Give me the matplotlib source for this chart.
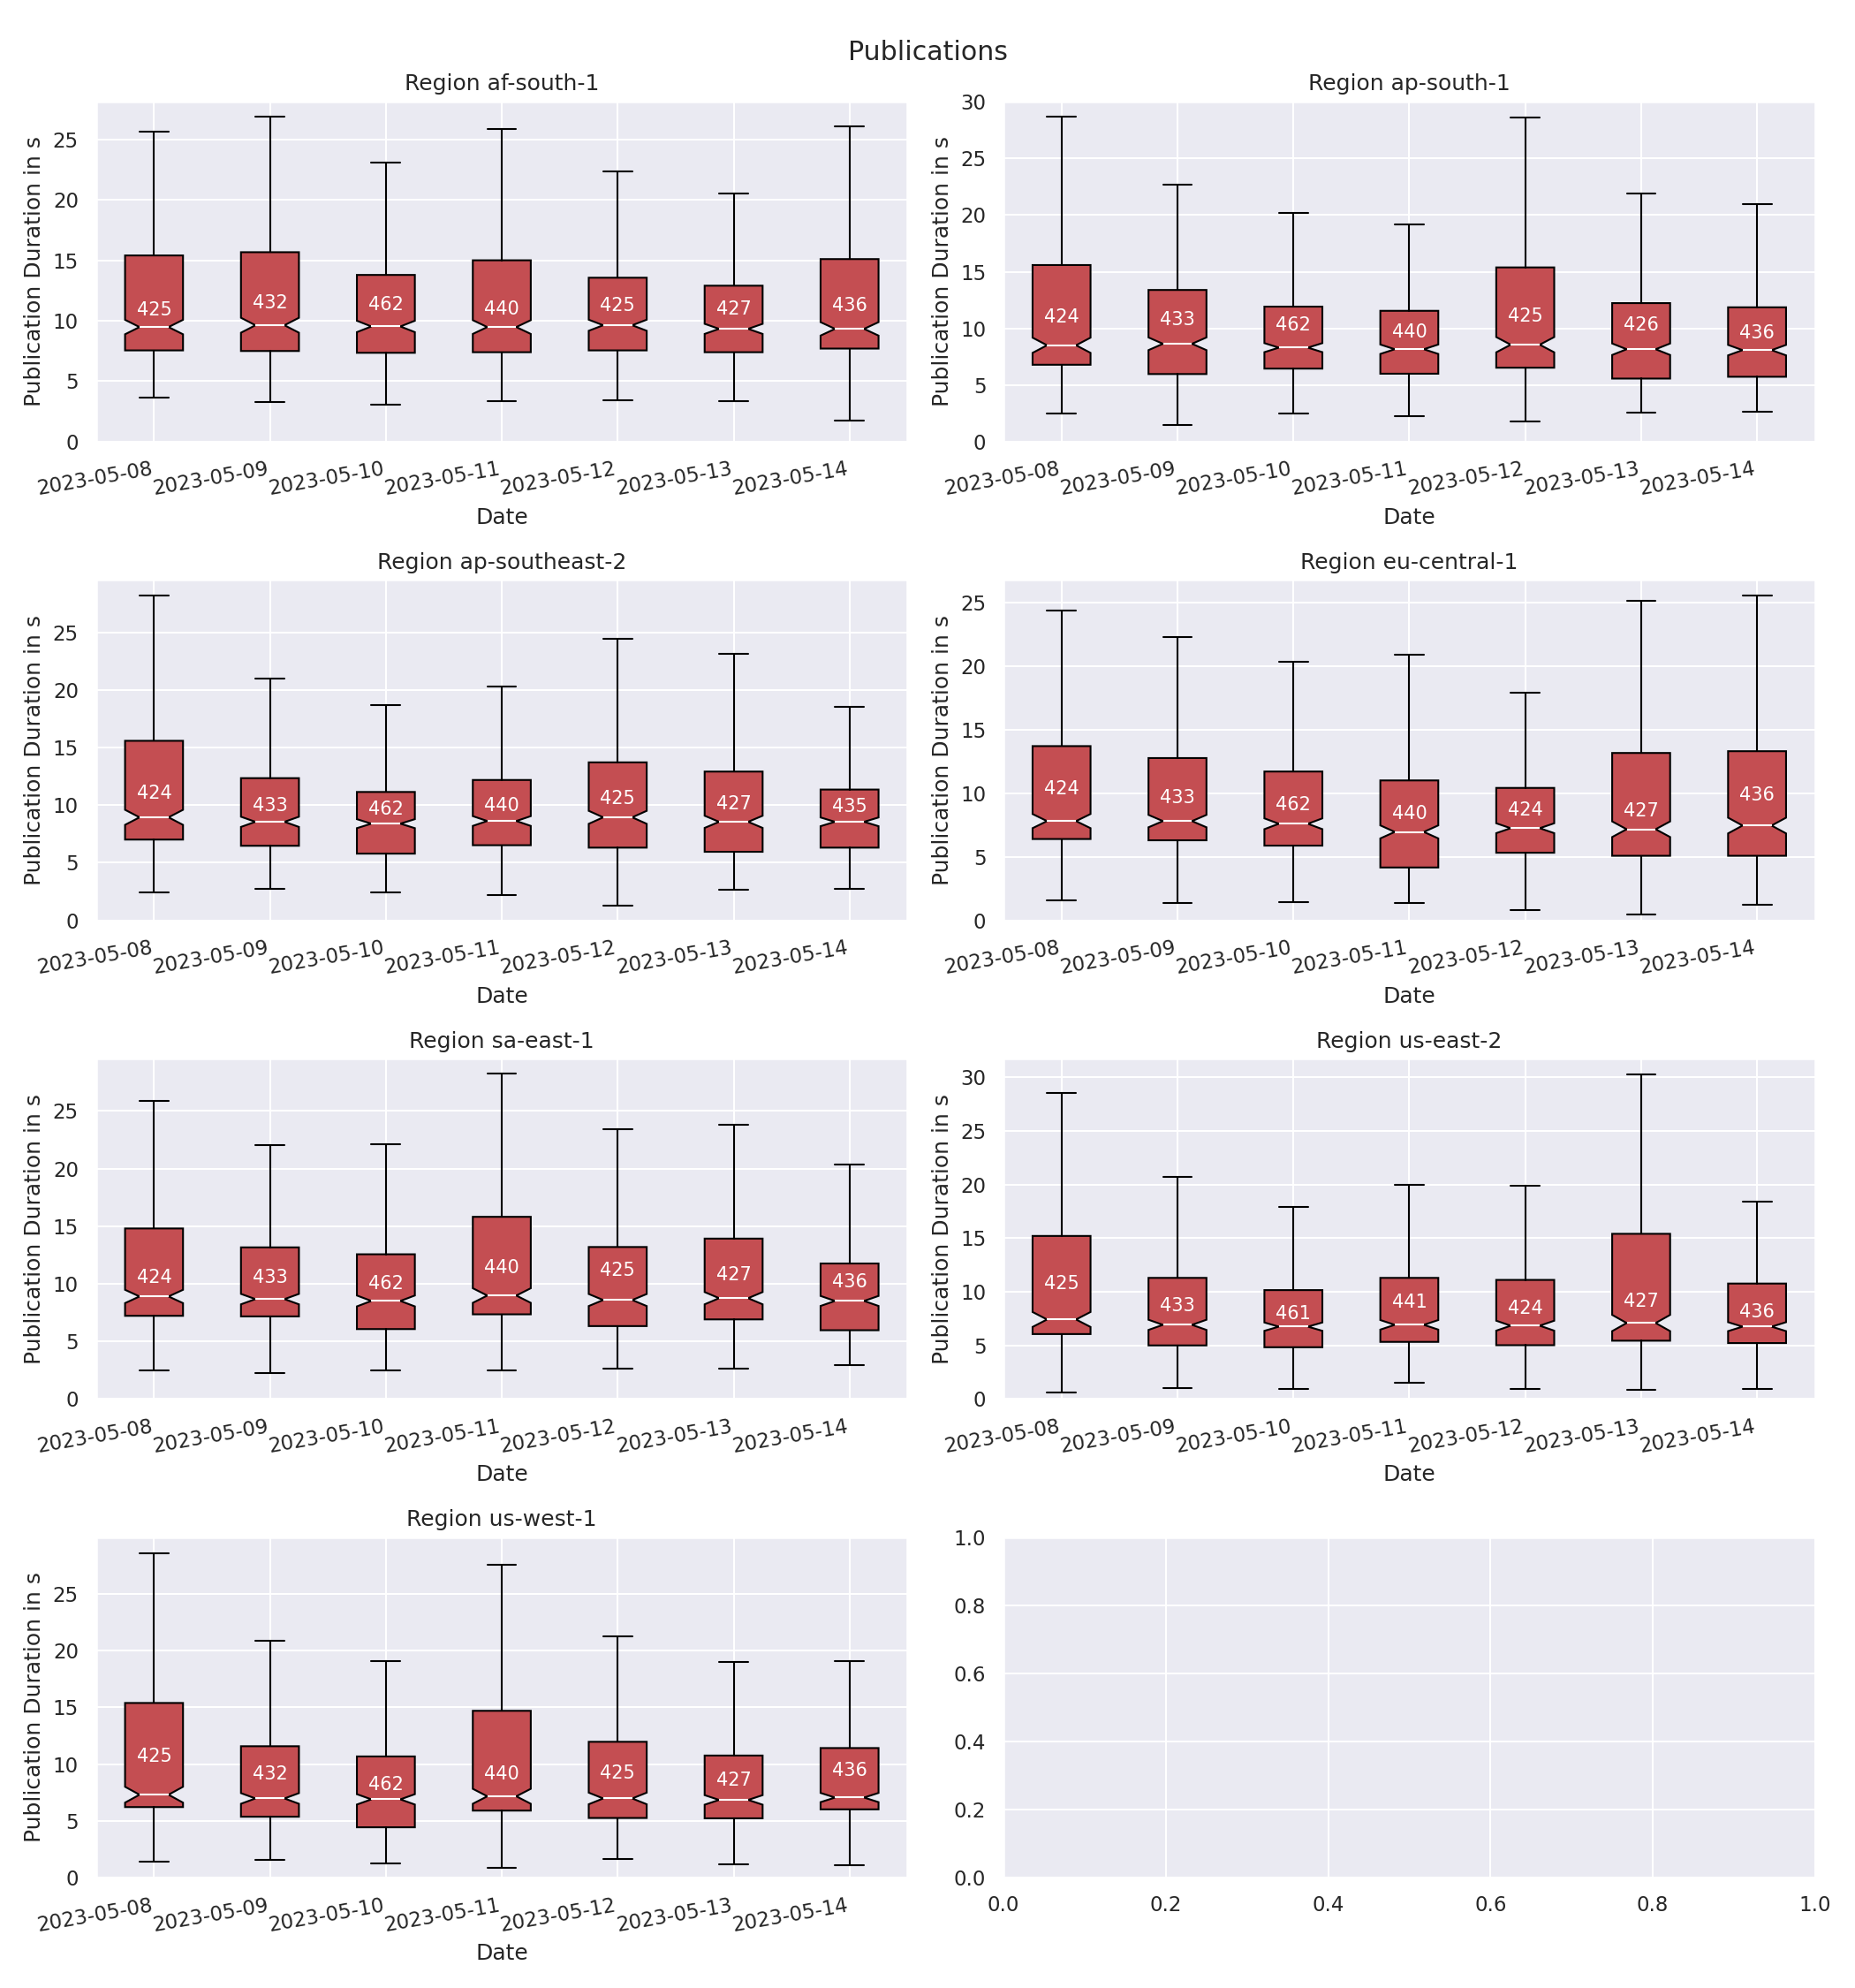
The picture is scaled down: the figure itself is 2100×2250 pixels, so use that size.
import numpy as np
import matplotlib
matplotlib.use("Agg")
import matplotlib.pyplot as plt
import seaborn as sns

sns.set_theme(context="notebook", style="darkgrid")

dates = ["2023-05-08", "2023-05-09", "2023-05-10", "2023-05-11",
         "2023-05-12", "2023-05-13", "2023-05-14"]

regions = ["af-south-1", "ap-south-1", "ap-southeast-2", "eu-central-1",
           "sa-east-1", "us-east-2", "us-west-1"]

# per region: counts, whisker low, q1, median, q3, whisker high, mean (label y)
af_south_1_n = [425, 432, 462, 440, 425, 427, 436]
af_south_1_lo = [3.61, 3.27, 3.09, 3.37, 3.44, 3.37, 1.71]
af_south_1_q1 = [7.55, 7.50, 7.35, 7.40, 7.55, 7.40, 7.70]
af_south_1_med = [9.48, 9.63, 9.53, 9.48, 9.63, 9.33, 9.33]
af_south_1_q3 = [15.40, 15.67, 13.79, 15.00, 13.56, 12.90, 15.10]
af_south_1_hi = [25.67, 26.90, 23.07, 25.87, 22.35, 20.54, 26.11]
af_south_1_mean = [10.90, 11.50, 11.34, 10.97, 11.26, 10.94, 11.26]

ap_south_1_n = [424, 433, 462, 440, 425, 426, 436]
ap_south_1_lo = [2.46, 1.45, 2.46, 2.22, 1.82, 2.56, 2.64]
ap_south_1_q1 = [6.79, 5.97, 6.45, 6.00, 6.53, 5.57, 5.73]
ap_south_1_med = [8.51, 8.64, 8.30, 8.16, 8.56, 8.16, 8.08]
ap_south_1_q3 = [15.59, 13.39, 11.92, 11.55, 15.38, 12.23, 11.86]
ap_south_1_hi = [28.69, 22.69, 20.18, 19.15, 28.64, 21.93, 20.95]
ap_south_1_mean = [10.96, 10.78, 10.25, 9.64, 11.04, 10.30, 9.56]

ap_southeast_2_n = [424, 433, 462, 440, 425, 427, 435]
ap_southeast_2_lo = [2.39, 2.70, 2.39, 2.23, 1.25, 2.62, 2.70]
ap_southeast_2_q1 = [7.01, 6.47, 5.79, 6.52, 6.31, 5.95, 6.31]
ap_southeast_2_med = [8.94, 8.55, 8.39, 8.62, 8.94, 8.55, 8.55]
ap_southeast_2_q3 = [15.58, 12.34, 11.14, 12.18, 13.71, 12.91, 11.35]
ap_southeast_2_hi = [28.20, 20.99, 18.68, 20.29, 24.44, 23.14, 18.52]
ap_southeast_2_mean = [10.99, 9.95, 9.61, 9.95, 10.57, 10.08, 9.84]

eu_central_1_n = [424, 433, 462, 440, 424, 427, 436]
eu_central_1_lo = [1.55, 1.34, 1.41, 1.34, 0.78, 0.49, 1.20]
eu_central_1_q1 = [6.40, 6.30, 5.88, 4.16, 5.32, 5.08, 5.08]
eu_central_1_med = [7.81, 7.81, 7.60, 6.96, 7.25, 7.17, 7.46]
eu_central_1_q3 = [13.71, 12.77, 11.71, 11.01, 10.42, 13.17, 13.31]
eu_central_1_hi = [24.41, 22.32, 20.37, 20.93, 17.94, 25.16, 25.54]
eu_central_1_mean = [10.35, 9.64, 9.10, 8.40, 8.66, 8.58, 9.88]

sa_east_1_n = [424, 433, 462, 440, 425, 427, 436]
sa_east_1_lo = [2.52, 2.28, 2.52, 2.52, 2.60, 2.67, 2.91]
sa_east_1_q1 = [7.22, 7.17, 6.07, 7.35, 6.33, 6.91, 5.97]
sa_east_1_med = [8.90, 8.67, 8.51, 8.98, 8.59, 8.75, 8.51]
sa_east_1_q3 = [14.80, 13.16, 12.56, 15.81, 13.19, 13.92, 11.76]
sa_east_1_hi = [25.86, 22.01, 22.12, 28.25, 23.39, 23.81, 20.35]
sa_east_1_mean = [10.57, 10.57, 10.00, 11.37, 11.16, 10.77, 10.18]

us_east_2_n = [425, 433, 461, 441, 424, 427, 436]
us_east_2_lo = [0.64, 1.06, 0.98, 1.48, 0.98, 0.89, 0.98]
us_east_2_q1 = [6.06, 5.00, 4.83, 5.33, 5.02, 5.44, 5.22]
us_east_2_med = [7.42, 6.92, 6.75, 6.92, 6.84, 7.09, 6.75]
us_east_2_q3 = [15.21, 11.30, 10.16, 11.30, 11.11, 15.41, 10.77]
us_east_2_hi = [28.52, 20.68, 17.92, 19.95, 19.87, 30.28, 18.45]
us_east_2_mean = [10.75, 8.65, 7.95, 8.99, 8.43, 9.07, 8.15]

us_west_1_n = [425, 432, 462, 440, 425, 427, 436]
us_west_1_lo = [1.45, 1.53, 1.23, 0.90, 1.62, 1.15, 1.07]
us_west_1_q1 = [6.22, 5.37, 4.44, 5.91, 5.26, 5.23, 6.02]
us_west_1_med = [7.31, 6.98, 6.90, 7.17, 6.98, 6.85, 7.06]
us_west_1_q3 = [15.39, 11.58, 10.68, 14.70, 11.97, 10.76, 11.42]
us_west_1_hi = [28.61, 20.89, 19.09, 27.60, 21.28, 19.00, 19.09]
us_west_1_mean = [10.68, 9.09, 8.21, 9.09, 9.17, 8.57, 9.45]

region_data = {
    "af-south-1": (af_south_1_n, af_south_1_lo, af_south_1_q1, af_south_1_med, af_south_1_q3, af_south_1_hi, af_south_1_mean),
    "ap-south-1": (ap_south_1_n, ap_south_1_lo, ap_south_1_q1, ap_south_1_med, ap_south_1_q3, ap_south_1_hi, ap_south_1_mean),
    "ap-southeast-2": (ap_southeast_2_n, ap_southeast_2_lo, ap_southeast_2_q1, ap_southeast_2_med, ap_southeast_2_q3, ap_southeast_2_hi, ap_southeast_2_mean),
    "eu-central-1": (eu_central_1_n, eu_central_1_lo, eu_central_1_q1, eu_central_1_med, eu_central_1_q3, eu_central_1_hi, eu_central_1_mean),
    "sa-east-1": (sa_east_1_n, sa_east_1_lo, sa_east_1_q1, sa_east_1_med, sa_east_1_q3, sa_east_1_hi, sa_east_1_mean),
    "us-east-2": (us_east_2_n, us_east_2_lo, us_east_2_q1, us_east_2_med, us_east_2_q3, us_east_2_hi, us_east_2_mean),
    "us-west-1": (us_west_1_n, us_west_1_lo, us_west_1_q1, us_west_1_med, us_west_1_q3, us_west_1_hi, us_west_1_mean),
}

BOX_COLOR = "#C44E52"

fig, axes = plt.subplots(4, 2, figsize=(14, 15), dpi=150)
axes = axes.flatten()

for ax, region in zip(axes, regions):
    n, lo, q1, med, q3, hi, mean = region_data[region]
    stats = []
    for i in range(len(dates)):
        iqr = q3[i] - q1[i]
        half = 1.57 * iqr / np.sqrt(n[i])
        stats.append(dict(med=med[i], q1=q1[i], q3=q3[i], whislo=lo[i], whishi=hi[i],
                          cilo=med[i] - half, cihi=med[i] + half, mean=mean[i],
                          fliers=[], label=dates[i]))
    ax.bxp(stats, shownotches=True, patch_artist=True, showfliers=False,
           boxprops=dict(facecolor=BOX_COLOR, edgecolor="black"),
           medianprops=dict(color="white"),
           whiskerprops=dict(color="black"), capprops=dict(color="black"))
    for i in range(len(dates)):
        ax.text(i + 1, mean[i], str(n[i]), ha="center", va="center",
                color="white", fontsize=10)
    ax.set_ylim(bottom=0)
    ax.set_title(f"Region {region}")
    ax.set_xlabel("Date")
    ax.set_ylabel("Publication Duration in s")
    plt.setp(ax.get_xticklabels(), rotation=10, ha="right")

fig.suptitle("Publications")
fig.tight_layout()
fig.savefig("out.png")
